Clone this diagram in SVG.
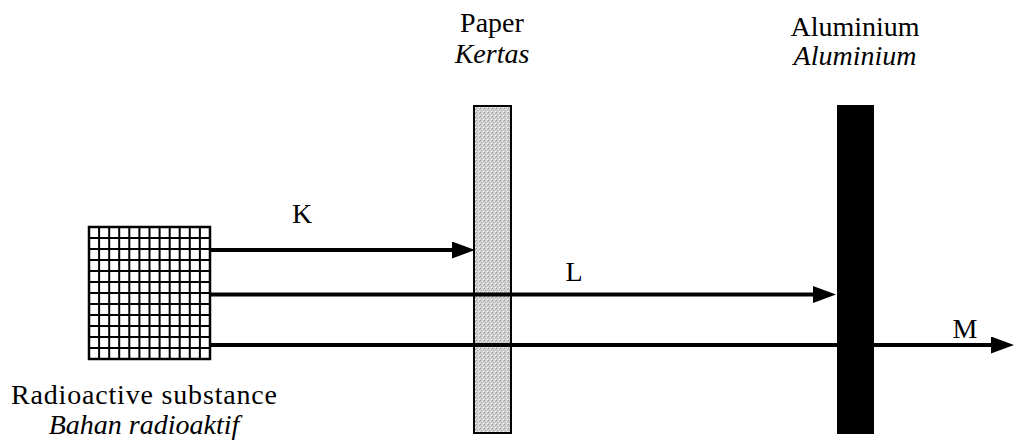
<svg xmlns="http://www.w3.org/2000/svg" width="1015" height="448" viewBox="0 0 1015 448">
  <style>
    .ray { stroke: #000; stroke-width: 4; fill: none; marker-end: url(#ah); }
  </style>
  <defs>
    <marker id="ah" markerUnits="userSpaceOnUse" markerWidth="23" markerHeight="17" refX="2" refY="8.5" orient="auto">
      <path d="M0,0 L23,8.5 L0,17 Z" fill="#000"/>
    </marker>
    <pattern id="stip" patternUnits="userSpaceOnUse" width="4" height="4">
      <rect width="4" height="4" fill="#d2d2d2"/>
      <rect x="0" y="0" width="1" height="1" fill="#9a9a9a"/>
      <rect x="2" y="1" width="1" height="1" fill="#ededed"/>
      <rect x="1" y="2" width="1" height="1" fill="#b0b0b0"/>
      <rect x="3" y="3" width="1" height="1" fill="#f2f2f2"/>
      <rect x="3" y="1" width="1" height="1" fill="#a8a8a8"/>
    </pattern>
  </defs>
  <rect width="1015" height="448" fill="#fff"/>

  <g font-family="'Liberation Serif', 'Times New Roman', serif" font-size="28" fill="#000">
    <g id="source">
      <rect x="89" y="227" width="121" height="132" fill="#fff" stroke="#000" stroke-width="2.5"/>
      <path stroke="#000" stroke-width="2" fill="none" d="M99.1,227V359 M109.2,227V359 M119.2,227V359 M129.3,227V359 M139.4,227V359 M149.5,227V359 M159.6,227V359 M169.7,227V359 M179.7,227V359 M189.8,227V359 M199.9,227V359 M89,238H210 M89,249H210 M89,260H210 M89,271H210 M89,282H210 M89,293H210 M89,304H210 M89,315H210 M89,326H210 M89,337H210 M89,348H210"/>
      <text x="144" y="404" text-anchor="middle" textLength="266" lengthAdjust="spacing">Radioactive substance</text>
      <text x="144" y="434" text-anchor="middle" font-style="italic">Bahan radioaktif</text>
    </g>

    <g id="paper">
      <rect x="474" y="106" width="37" height="327" fill="url(#stip)" stroke="#000" stroke-width="2"/>
      <text x="492" y="32" text-anchor="middle">Paper</text>
      <text x="492" y="63" text-anchor="middle" font-style="italic">Kertas</text>
    </g>

    <g id="aluminium">
      <rect x="837" y="105" width="37" height="329" fill="#000"/>
      <text x="855" y="36" text-anchor="middle">Aluminium</text>
      <text x="855" y="65" text-anchor="middle" font-style="italic">Aluminium</text>
    </g>

    <g id="connectors">
      <line class="ray" x1="210" y1="250" x2="454" y2="250"/>
      <line class="ray" x1="210" y1="294.5" x2="815" y2="294.5"/>
      <line class="ray" x1="210" y1="345" x2="993" y2="345"/>
      <text x="302" y="223" text-anchor="middle">K</text>
      <text x="574" y="281" text-anchor="middle">L</text>
      <text x="965" y="338" text-anchor="middle">M</text>
    </g>
  </g>
</svg>
